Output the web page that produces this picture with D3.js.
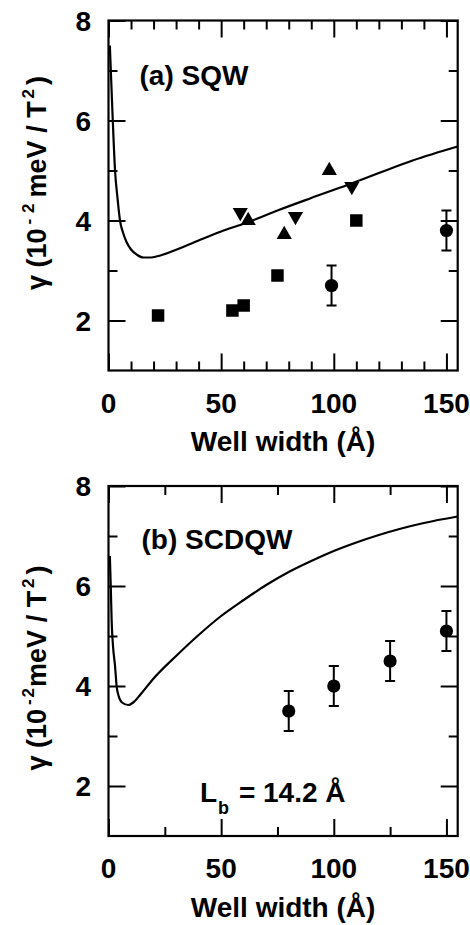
<!DOCTYPE html>
<html>
<head>
<meta charset="utf-8">
<script src="https://cdn.jsdelivr.net/npm/d3@7"></script>
<style>
  html, body { margin: 0; padding: 0; background: #fff; overflow: hidden; }
  svg { display: block; }
  svg text { font-family: "Liberation Sans", Arial, Helvetica, sans-serif; font-weight: bold; fill: #000; }
</style>
</head>
<body>
<svg id="chart" width="470" height="925"></svg>
<script>
// ---------- data ----------
const xDomain = [0, 155];
const yDomain = [1, 8];
const xTickLabels = [0, 50, 100, 150];
const yTickLabels = [2, 4, 6, 8];
const yMinorTicks = [3, 5, 7];
const xMinorTicksA = [10, 20, 30, 40, 60, 70, 80, 90, 110, 120, 130, 140];
const xMinorTicksB = [25, 75, 125];

// (a) SQW theory curve
const sqwCurveX = [0.6, 1.2, 1.9, 2.9, 4.0, 5.1, 6.5, 8, 10, 12.5, 15.5, 19, 23, 28, 32, 40, 50, 61, 75, 90, 106, 120, 135, 155];
const sqwCurveY = [7.5, 6.8, 6.0, 5.0, 4.45, 4.0, 3.75, 3.57, 3.42, 3.32, 3.26, 3.26, 3.3, 3.38, 3.45, 3.6, 3.78, 3.95, 4.2, 4.45, 4.71, 4.95, 5.2, 5.48];
// (a) experimental points
const sqwSquareX = [22, 55, 60, 75, 110];
const sqwSquareY = [2.1, 2.2, 2.3, 2.9, 4.0];
const sqwUpTriX = [62, 78, 98];
const sqwUpTriY = [4.0, 3.72, 5.0];
const sqwDownTriX = [58.5, 83, 108];
const sqwDownTriY = [4.16, 4.08, 4.68];
const sqwCircleX = [99, 150];
const sqwCircleY = [2.7, 3.8];
const sqwCircleErr = [0.4, 0.4];

// (b) SCDQW theory curve
const scdqwCurveX = [0.6, 1.0, 1.4, 2.0, 2.9, 3.6, 4.5, 6, 8.8, 11, 14, 20, 30, 40, 50, 60, 70, 80, 90, 100, 110, 120, 130, 140, 155];
const scdqwCurveY = [6.6, 6.0, 5.3, 4.8, 4.4, 4.0, 3.8, 3.67, 3.62, 3.67, 3.82, 4.15, 4.6, 5.02, 5.4, 5.72, 6.02, 6.28, 6.5, 6.7, 6.87, 7.02, 7.15, 7.26, 7.39];
const scdqwCircleX = [80, 100, 125, 150];
const scdqwCircleY = [3.5, 4.0, 4.5, 5.1];
const scdqwCircleErr = [0.4, 0.4, 0.4, 0.4];

// ---------- drawing ----------
const svg = d3.select("#chart");
const PLOT_L = 108.5, PLOT_R = 457.7;
const TICK_MAJOR = 17, TICK_MINOR = 9;
const panelA = { top: 20.5, bottom: 370.5, xMinor: xMinorTicksA };
const panelB = { top: 486, bottom: 836, xMinor: xMinorTicksB };

function zip(xs, ys) { return xs.map((x, i) => [x, ys[i]]); }

function makeScales(cfg) {
  return {
    x: d3.scaleLinear().domain(xDomain).range([PLOT_L, PLOT_R]),
    y: d3.scaleLinear().domain(yDomain).range([cfg.bottom, cfg.top])
  };
}

function drawPanel(cfg) {
  const { x, y } = makeScales(cfg);
  const g = svg.append("g");

  g.append("rect")
    .attr("x", PLOT_L).attr("y", cfg.top)
    .attr("width", PLOT_R - PLOT_L).attr("height", cfg.bottom - cfg.top)
    .attr("fill", "none").attr("stroke", "#000").attr("stroke-width", 2.2);

  xTickLabels.forEach(v => {
    g.append("text").attr("x", x(v)).attr("y", cfg.bottom + 42)
      .attr("text-anchor", "middle").attr("font-size", 28).text(v);
  });
  yTickLabels.forEach(v => {
    g.append("text").attr("x", 91).attr("y", y(v) + 10)
      .attr("text-anchor", "end").attr("font-size", 28).text(v);
  });

  g.append("text").attr("x", (PLOT_L + PLOT_R) / 2).attr("y", cfg.bottom + 80.5)
    .attr("text-anchor", "middle").attr("font-size", 28).text("Well width (Å)");

  const yl = g.append("text")
    .attr("transform", `translate(46,${cfg.labelCenter}) rotate(-90)`)
    .attr("text-anchor", "middle").attr("font-size", 27);
  yl.append("tspan").text("γ (10");
  yl.append("tspan").attr("font-size", 17).attr("dy", -12).attr("dx", 4).text("-");
  yl.append("tspan").attr("font-size", 17).attr("dx", cfg.supGap).text("2");
  yl.append("tspan").attr("dy", 12).attr("dx", cfg.meVGap).text("meV / T");
  yl.append("tspan").attr("font-size", 17).attr("dy", -12).attr("dx", 3).text("2");
  yl.append("tspan").attr("dy", 12).attr("dx", 4).text(")");

  const line = d3.line().x(d => x(d[0])).y(d => y(d[1])).curve(d3.curveMonotoneX);
  g.append("path").datum(zip(cfg.curveX, cfg.curveY))
    .attr("d", line).attr("fill", "none").attr("stroke", "#000").attr("stroke-width", 2.2);

  return { g, x, y };
}

// inward ticks on all four sides through d3 axes
function drawAxesTicks(cfg) {
  const { x, y } = makeScales(cfg);
  const specs = [
    [() => d3.axisBottom(x), `translate(0,${cfg.bottom})`, xTickLabels, cfg.xMinor],
    [() => d3.axisTop(x), `translate(0,${cfg.top})`, xTickLabels, cfg.xMinor],
    [() => d3.axisLeft(y), `translate(${PLOT_L},0)`, yTickLabels, yMinorTicks],
    [() => d3.axisRight(y), `translate(${PLOT_R},0)`, yTickLabels, yMinorTicks]
  ];
  specs.forEach(([mk, tr, major, minor]) => {
    [[major, TICK_MAJOR], [minor, TICK_MINOR]].forEach(([vals, len]) => {
      const ag = svg.append("g").attr("transform", tr)
        .call(mk().tickValues(vals).tickSizeInner(-len).tickSizeOuter(0).tickFormat(() => ""));
      ag.select(".domain").remove();
      ag.selectAll(".tick text").remove();
      ag.selectAll(".tick line").attr("stroke", "#000").attr("stroke-width", 2);
    });
  });
}

function errorCircles(p, xs, ys, es) {
  const data = xs.map((d, i) => ({ x: d, y: ys[i], e: es[i] }));
  const d = data.map(o => {
    const cx = p.x(o.x), lo = p.y(o.y - o.e), hi = p.y(o.y + o.e);
    return `M${cx},${lo}L${cx},${hi}M${cx - 5},${lo}L${cx + 5},${lo}M${cx - 5},${hi}L${cx + 5},${hi}`;
  }).join("");
  p.g.append("path").attr("d", d).attr("fill", "none").attr("stroke", "#000").attr("stroke-width", 2);
  p.g.append("g").selectAll("circle").data(data).enter().append("circle")
    .attr("cx", o => p.x(o.x)).attr("cy", o => p.y(o.y)).attr("r", 6.6).attr("fill", "#000");
}

function symbols(p, xs, ys, type, size, rot) {
  const sym = d3.symbol().type(type).size(size);
  p.g.append("g").selectAll("path").data(zip(xs, ys)).enter().append("path")
    .attr("d", sym)
    .attr("transform", d => `translate(${p.x(d[0])},${p.y(d[1])}) rotate(${rot})`)
    .attr("fill", "#000");
}

// Panel (a)
const pa = drawPanel(Object.assign({ curveX: sqwCurveX, curveY: sqwCurveY, labelCenter: 183, supGap: 6, meVGap: 6 }, panelA));
symbols(pa, sqwSquareX, sqwSquareY, d3.symbolSquare, 156, 0);
symbols(pa, sqwUpTriX, sqwUpTriY, d3.symbolTriangle, 100, 0);
symbols(pa, sqwDownTriX, sqwDownTriY, d3.symbolTriangle, 100, 180);
errorCircles(pa, sqwCircleX, sqwCircleY, sqwCircleErr);
pa.g.append("text").attr("x", 139.5).attr("y", 85).attr("font-size", 28).text("(a) SQW");

// Panel (b)
const pb = drawPanel(Object.assign({ curveX: scdqwCurveX, curveY: scdqwCurveY, labelCenter: 668, supGap: 2, meVGap: 1 }, panelB));
errorCircles(pb, scdqwCircleX, scdqwCircleY, scdqwCircleErr);
pb.g.append("text").attr("x", 141.5).attr("y", 549).attr("font-size", 28).text("(b) SCDQW");
const lb = pb.g.append("text").attr("x", 200).attr("y", 801.5).attr("font-size", 28);
lb.append("tspan").text("L");
lb.append("tspan").attr("font-size", 18).attr("dy", 12).attr("dx", 1).text("b");
lb.append("tspan").attr("dy", -12).attr("dx", 2).text(" = 14.2 Å");

drawAxesTicks(panelA);
drawAxesTicks(panelB);
</script>
</body>
</html>
